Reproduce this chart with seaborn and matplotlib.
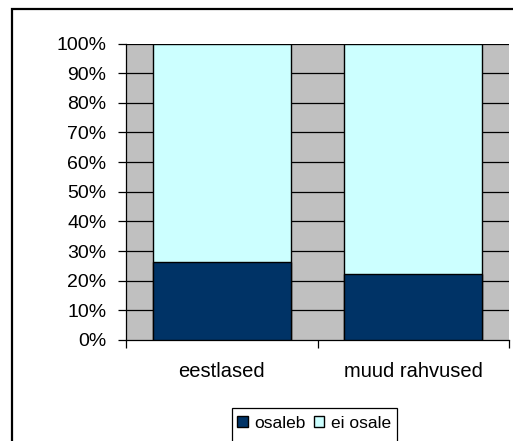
import pandas as pd
import matplotlib
matplotlib.use("Agg")
import matplotlib.pyplot as plt
import seaborn as sns
from matplotlib.patches import Patch, Rectangle

# chart values (percent)
groups = ["eestlased", "muud rahvused"]
osaleb = [26.3, 22.4]
ei_osale = [73.7, 77.6]
series_names = ["osaleb", "ei osale"]
colors = ["#003366", "#CCFFFF"]

df = pd.DataFrame({"group": groups, "osaleb": osaleb, "ei osale": ei_osale})
df["total"] = df["osaleb"] + df["ei osale"]

sns.set_style("white")
plt.rcParams["font.family"] = ["Liberation Sans", "DejaVu Sans"]
plt.rcParams["text.color"] = "black"
plt.rcParams["xtick.color"] = "black"
plt.rcParams["ytick.color"] = "black"
plt.rcParams["xtick.labelcolor"] = "black"
plt.rcParams["ytick.labelcolor"] = "black"

W, H = 513, 441
fig = plt.figure(figsize=(W / 100, H / 100), dpi=100)
ax = fig.add_axes([126 / W, 1 - 340 / H, (509 - 126) / W, (340 - 43.5) / H])
ax.set_facecolor("#C0C0C0")

# gridlines behind bars
for v in range(10, 101, 10):
    ax.axhline(v, color="black", lw=0.9, zorder=0)

# stacked bars: total in light colour, then the bottom part on top
sns.barplot(data=df, x="group", y="total", color=colors[1], width=0.72,
            saturation=1, edgecolor="black", linewidth=1.0, ax=ax, zorder=2)
sns.barplot(data=df, x="group", y="osaleb", color=colors[0], width=0.72,
            saturation=1, edgecolor="black", linewidth=1.0, ax=ax, zorder=3)

ax.set_ylim(0, 100)
ax.set_xlim(-0.5, 1.5)
ax.set_yticks(range(0, 101, 10))
ax.set_yticklabels([f"{v}%" for v in range(0, 101, 10)], fontsize=14)
ax.set_xlabel("")
ax.set_ylabel("")
ax.set_xticks([0, 1])
ax.set_xticklabels(groups, fontsize=14.5)
ax.tick_params(axis="x", length=0, pad=16)
ax.tick_params(axis="y", length=6, width=0.9, direction="out", left=True, pad=8)
# category boundary ticks
ax.set_xticks([-0.5, 0.5, 1.5], minor=True)
ax.tick_params(axis="x", which="minor", length=6, width=0.9, direction="out", bottom=True)

for s in ["top", "right"]:
    ax.spines[s].set_visible(False)
for s in ["left", "bottom"]:
    ax.spines[s].set_color("black")
    ax.spines[s].set_linewidth(0.9)

# outer chart frame
fig.add_artist(Rectangle((12 / W, -0.1), 1.0, 1 - 9 / H + 0.1,
                         transform=fig.transFigure, fill=False,
                         edgecolor="black", lw=1.6, clip_on=False))

# legend box
fig.add_artist(Rectangle((232 / W, -0.1), (397 - 232) / W, 1 - 408 / H + 0.1,
                         transform=fig.transFigure, fill=False,
                         edgecolor="black", lw=0.9))
handles = [Patch(facecolor=c, edgecolor="black", linewidth=1.0, label=n)
           for c, n in zip(colors, series_names)]
fig.legend(handles=handles, loc="center left", ncol=2, frameon=False,
           bbox_to_anchor=(234 / W, 1 - 423 / H), fontsize=12.5,
           handlelength=0.6, handleheight=0.6, handletextpad=0.35,
           columnspacing=0.5, borderaxespad=0, borderpad=0.2)

fig.savefig("out.png", dpi=100)
